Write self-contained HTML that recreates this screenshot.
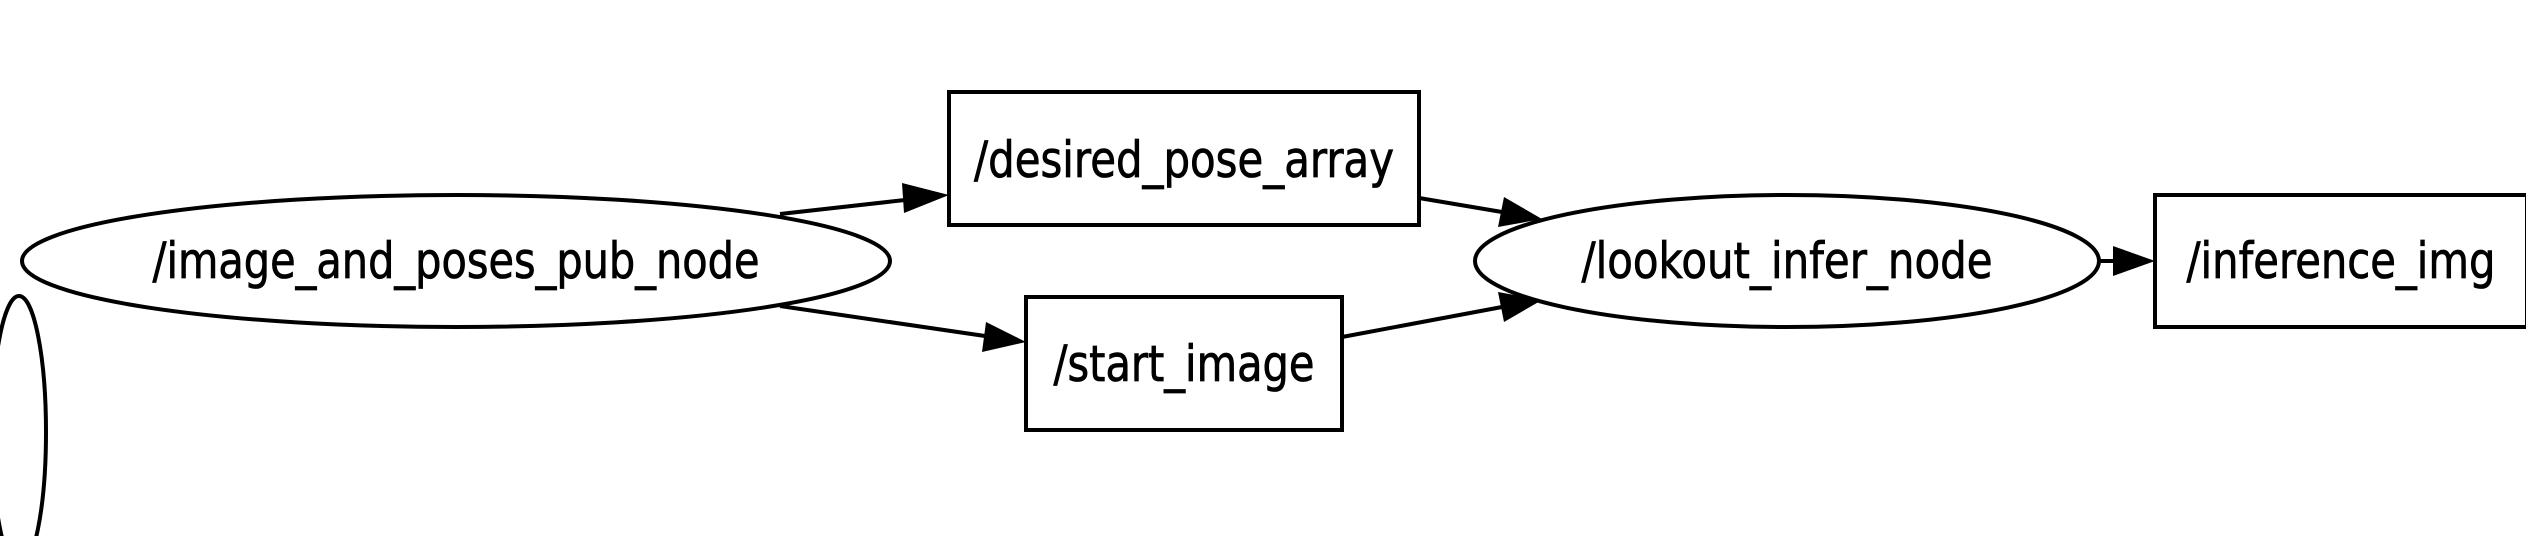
<!DOCTYPE html>
<html><head><meta charset="utf-8"><style>html,body{margin:0;padding:0;background:#fff;overflow:hidden;width:2526px;height:536px}svg{display:block}</style></head>
<body>
<svg width="2526" height="536" viewBox="0 0 2526 536" xmlns="http://www.w3.org/2000/svg">
<g fill="none" stroke="#000" stroke-width="4">
<ellipse cx="456" cy="261" rx="434" ry="66"/>
<ellipse cx="1787" cy="261" rx="312" ry="66"/>
<ellipse cx="19" cy="432" rx="27" ry="136"/>
<rect x="949" y="92" width="470" height="133"/>
<rect x="1026" y="297" width="316" height="133"/>
<rect x="2155" y="195" width="372" height="132"/>
<line x1="780" y1="214" x2="905" y2="200"/>
<line x1="780" y1="306" x2="985" y2="336"/>
<line x1="1419" y1="198" x2="1502" y2="212"/>
<line x1="1342" y1="337" x2="1502" y2="307"/>
<line x1="2099" y1="261" x2="2115" y2="261"/>
</g>
<g fill="#000">
<polygon points="949,195 904,213 902,183"/>
<polygon points="1026,342 982,352 986,322"/>
<polygon points="1542,219 1498,227 1504,197"/>
<polygon points="1542,300 1504,322 1498,292"/>
<polygon points="2155,261 2113,276 2113,246"/>
</g>
<g font-family="DejaVu Sans, sans-serif" font-size="50" text-anchor="middle" fill="#000" stroke="#000" stroke-width="0.8">
<text x="456" y="278" textLength="607" lengthAdjust="spacingAndGlyphs">/image_and_poses_pub_node</text>
<text x="1184" y="177" textLength="420" lengthAdjust="spacingAndGlyphs">/desired_pose_array</text>
<text x="1184" y="381" textLength="261" lengthAdjust="spacingAndGlyphs">/start_image</text>
<text x="1787" y="278" textLength="411" lengthAdjust="spacingAndGlyphs">/lookout_infer_node</text>
<text x="2341" y="278" textLength="309" lengthAdjust="spacingAndGlyphs">/inference_img</text>
</g>
</svg>
</body></html>
